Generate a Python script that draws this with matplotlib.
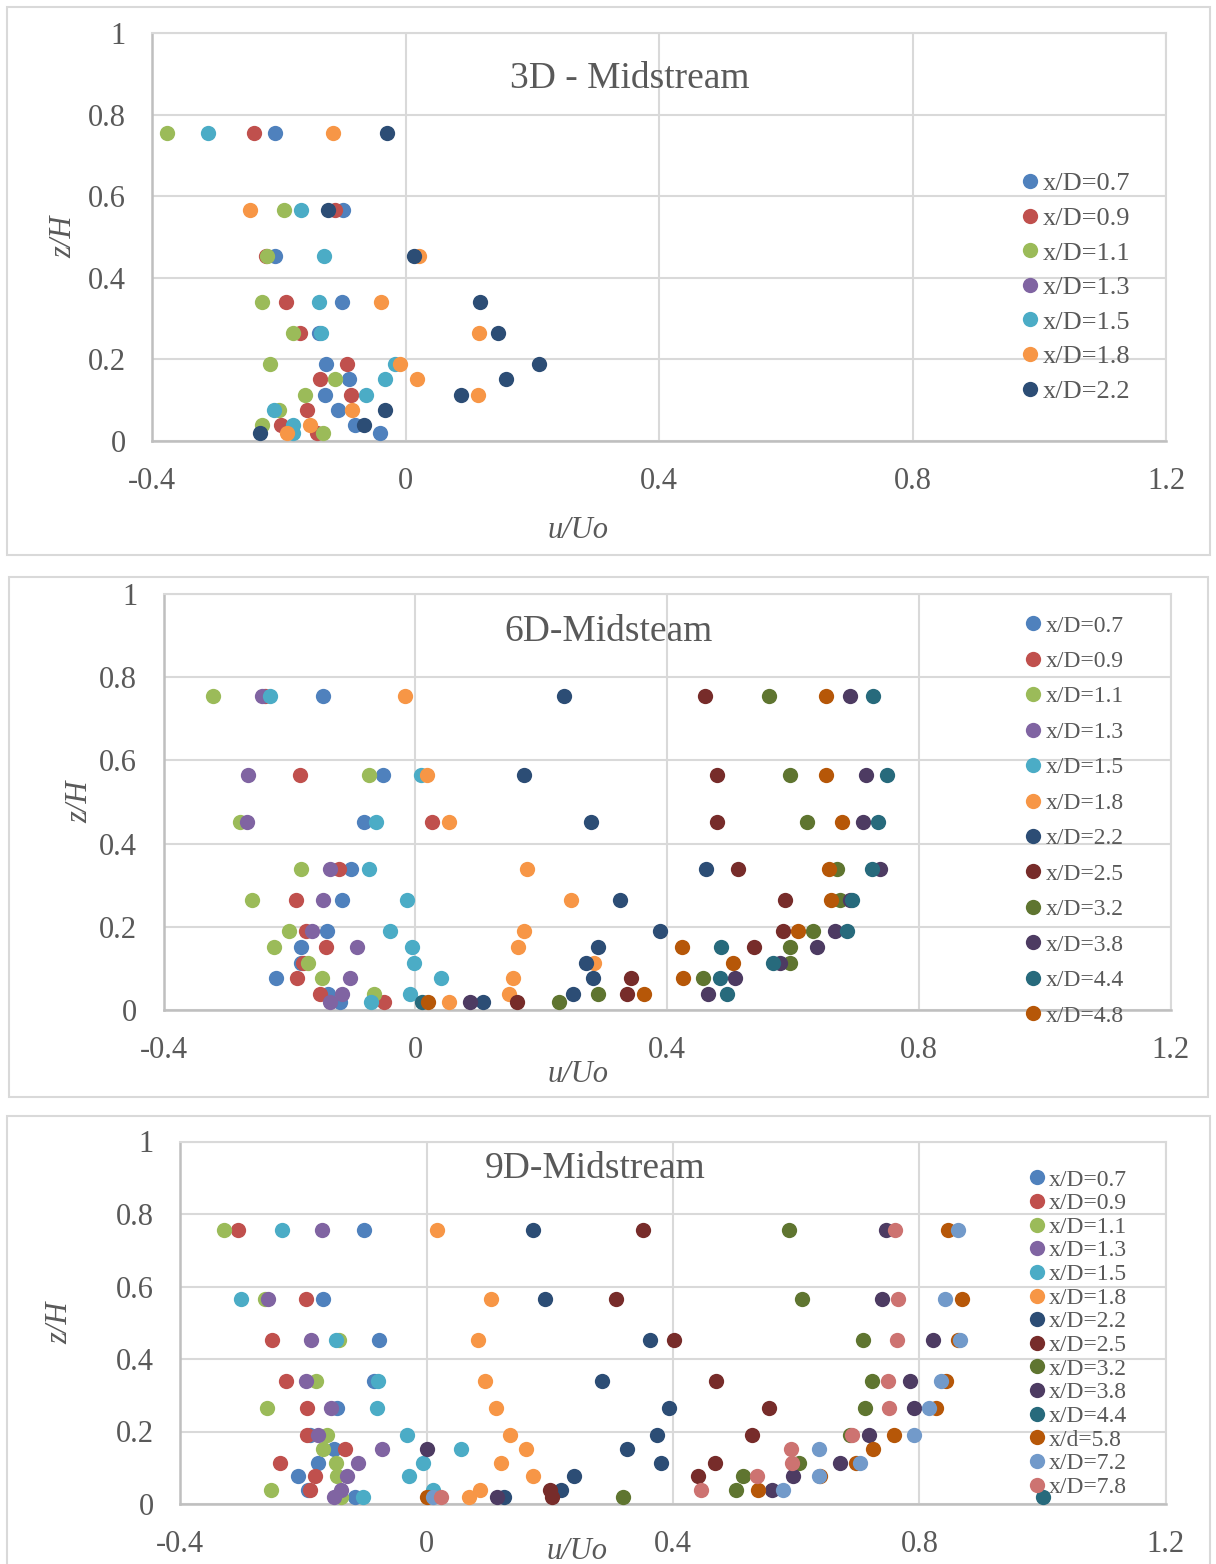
"""Midstream velocity profiles (u/Uo vs z/H) at 3D, 6D and 9D stations."""

import numpy as np
import matplotlib

matplotlib.use("Agg")
import matplotlib.pyplot as plt
from matplotlib.patches import Rectangle

nan = np.nan
W, H = 1216, 1564

# measurement heights z/H (same for every station)
Z = [0.019, 0.039, 0.076, 0.113, 0.152, 0.189, 0.264, 0.340, 0.453, 0.566, 0.755]

COLORS = {
    "x/D=0.7": "#4F81BD", "x/D=0.9": "#C0504D", "x/D=1.1": "#9BBB59",
    "x/D=1.3": "#8064A2", "x/D=1.5": "#4BACC6", "x/D=1.8": "#F79646",
    "x/D=2.2": "#2C4D75", "x/D=2.5": "#772C2A", "x/D=3.2": "#5F7530",
    "x/D=3.8": "#4D3B62", "x/D=4.4": "#276A7C", "x/D=4.8": "#B65708",
    "x/d=5.8": "#B65708", "x/D=7.2": "#729ACA", "x/D=7.8": "#CD7371",
}

# ---- 3D - Midstream ----
mid3_labels = ["x/D=0.7", "x/D=0.9", "x/D=1.1", "x/D=1.3", "x/D=1.5",
               "x/D=1.8", "x/D=2.2"]
mid3_u = [
    [-0.041, -0.079, -0.107, -0.127, -0.089, -0.126, -0.136, -0.100, -0.206, -0.099, -0.206],
    [-0.140, -0.197, -0.155, -0.086, -0.135, -0.092, -0.166, -0.188, -0.220, -0.111, -0.239],
    [-0.130, -0.227, -0.199, -0.159, -0.112, -0.214, -0.178, -0.226, -0.218, -0.192, -0.376],
    [nan] * 11,
    [-0.177, -0.177, -0.207, -0.063, -0.032, -0.016, -0.134, -0.136, -0.128, -0.165, -0.312],
    [-0.187, -0.151, -0.084, 0.114, 0.018, -0.008, 0.116, -0.039, 0.022, -0.245, -0.115],
    [-0.230, -0.065, -0.033, 0.087, 0.158, 0.210, 0.146, 0.117, 0.013, -0.123, -0.029],
]

# ---- 6D-Midsteam ----
mid6_labels = ["x/D=0.7", "x/D=0.9", "x/D=1.1", "x/D=1.3", "x/D=1.5",
               "x/D=1.8", "x/D=2.2", "x/D=2.5", "x/D=3.2", "x/D=3.8",
               "x/D=4.4", "x/D=4.8"]
mid6_u = [
    [-0.120, -0.138, -0.221, -0.182, -0.182, -0.141, -0.116, -0.102, -0.082, -0.052, -0.147],
    [-0.049, -0.151, -0.188, -0.178, -0.142, -0.173, -0.190, -0.121, 0.026, -0.183, -0.239],
    [nan, -0.065, -0.148, -0.170, -0.225, -0.200, -0.259, -0.181, -0.279, -0.074, -0.322],
    [-0.135, -0.117, -0.104, nan, -0.093, -0.164, -0.146, -0.135, -0.267, -0.266, -0.244],
    [-0.071, -0.008, 0.041, -0.002, -0.005, -0.041, -0.014, -0.073, -0.063, 0.009, -0.231],
    [0.053, 0.149, 0.156, 0.284, 0.163, 0.173, 0.247, 0.178, 0.054, 0.018, -0.017],
    [0.108, 0.251, 0.283, 0.271, 0.291, 0.389, 0.325, 0.462, 0.279, 0.172, 0.236],
    [0.162, 0.337, 0.343, nan, 0.538, 0.584, 0.587, 0.512, 0.479, 0.479, 0.461],
    [0.229, 0.291, 0.457, 0.595, 0.596, 0.632, 0.675, 0.670, 0.622, 0.596, 0.562],
    [0.087, 0.465, 0.508, 0.579, 0.639, 0.667, 0.691, 0.738, 0.711, 0.716, 0.691],
    [0.010, 0.496, 0.484, 0.568, 0.485, 0.686, 0.694, 0.726, 0.736, 0.750, 0.727],
    [0.020, 0.363, 0.425, 0.505, 0.423, 0.608, 0.660, 0.658, 0.678, 0.653, 0.652],
]

# ---- 9D-Midstream ----
mid9_labels = ["x/D=0.7", "x/D=0.9", "x/D=1.1", "x/D=1.3", "x/D=1.5",
               "x/D=1.8", "x/D=2.2", "x/D=2.5", "x/D=3.2", "x/D=3.8",
               "x/D=4.4", "x/d=5.8", "x/D=7.2", "x/D=7.8"]
mid9_u = [
    [-0.117, -0.193, -0.209, -0.177, -0.150, -0.190, -0.145, -0.086, -0.077, -0.168, -0.102],
    [nan, -0.189, -0.182, -0.238, -0.132, -0.194, -0.195, -0.228, -0.252, -0.196, -0.306],
    [-0.140, -0.253, -0.145, -0.148, -0.169, -0.162, -0.259, -0.180, -0.143, -0.263, -0.330],
    [-0.150, -0.139, -0.129, -0.111, -0.073, -0.176, -0.156, -0.196, -0.188, -0.257, -0.170],
    [-0.104, 0.011, -0.028, -0.006, 0.056, -0.032, -0.080, -0.079, -0.148, -0.302, -0.235],
    [0.068, 0.087, 0.173, 0.120, 0.161, 0.135, 0.113, 0.095, 0.084, 0.105, 0.017],
    [0.126, 0.218, 0.239, 0.380, 0.326, 0.374, 0.394, 0.285, 0.362, 0.192, 0.172],
    [0.203, 0.200, 0.440, 0.468, nan, 0.529, 0.555, 0.470, 0.402, 0.307, 0.352],
    [0.319, 0.503, 0.513, 0.604, nan, 0.687, 0.712, 0.723, 0.708, 0.610, 0.589],
    [0.114, 0.561, 0.595, 0.671, 0.000, 0.718, 0.792, 0.784, 0.822, 0.739, 0.746],
    [1.000, nan, nan, nan, nan, nan, nan, nan, nan, nan, nan],
    [0.000, 0.538, 0.639, 0.697, 0.724, 0.758, 0.827, 0.844, 0.863, 0.869, 0.846],
    [0.011, 0.578, 0.637, 0.704, 0.637, 0.791, 0.815, 0.835, 0.866, 0.841, 0.863],
    [0.023, 0.446, 0.537, 0.593, 0.591, 0.691, 0.750, 0.749, 0.763, 0.766, 0.760],
]

XTICKS = [-0.4, 0, 0.4, 0.8, 1.2]
XTICKLABELS = ["-0.4", "0", "0.4", "0.8", "1.2"]
YTICKS = [0, 0.2, 0.4, 0.6, 0.8, 1.0]
YTICKLABELS = ["0", "0.2", "0.4", "0.6", "0.8", "1"]

TXT = "#595959"
GRID = "#D9D9D9"
AXIS = "#BFBFBF"

plt.rcParams["font.family"] = ["Liberation Serif", "DejaVu Serif"]


def fx(px):
    return px / W


def fy(py):
    return 1 - py / H


def frame(fig, x0, y0, x1, y1):
    fig.add_artist(Rectangle((fx(x0), fy(y1)), fx(x1 - x0), (y1 - y0) / H,
                             transform=fig.transFigure, fill=False,
                             ec=GRID, lw=1.5))


def panel(fig, box, title, title_xy, labels, us, xlab_xy, ylab_x, leg):
    left, top, right, bottom = box
    ax = fig.add_axes([fx(left), fy(bottom), fx(right - left), (bottom - top) / H])
    for lab, u in zip(labels, us):
        ax.plot(u, Z, "o", ms=11, mew=0, color=COLORS[lab], label=lab,
                clip_on=False, zorder=3)

    ax.set_xlim(-0.4, 1.2)
    ax.set_ylim(0, 1)
    ax.set_xticks(XTICKS, XTICKLABELS)
    ax.set_yticks(YTICKS, YTICKLABELS)
    ax.tick_params(length=0, labelsize=22, labelcolor=TXT)
    ax.tick_params(axis="x", pad=18.5)
    ax.tick_params(axis="y", pad=19)
    ax.grid(True, color=GRID, lw=1.5)
    ax.set_axisbelow(True)
    for s in ("left", "bottom"):
        ax.spines[s].set_color(AXIS)
        ax.spines[s].set_linewidth(1.8)
    for s in ("top", "right"):
        ax.spines[s].set_color(GRID)
        ax.spines[s].set_linewidth(1.5)

    ax.set_xlabel("u/Uo", fontsize=22, style="italic", color=TXT, va="center")
    ax.xaxis.set_label_coords(*xlab_xy)
    ax.set_ylabel("z/H", fontsize=22, style="italic", color=TXT, va="center")
    ax.yaxis.set_label_coords(ylab_x, 0.5)

    ax.text(title_xy[0], title_xy[1], title, transform=ax.transAxes,
            ha="center", va="center", fontsize=27, color=TXT)

    lx, ly, fs, spacing, tpad = leg
    ax.legend(loc="upper left", bbox_to_anchor=(fx(lx), fy(ly)),
              bbox_transform=fig.transFigure, frameon=False, fontsize=fs,
              labelcolor=TXT, labelspacing=spacing, handlelength=0.6,
              handletextpad=tpad, borderpad=0, borderaxespad=0, numpoints=1)
    return ax


fig = plt.figure(figsize=(W / 100, H / 100), dpi=100)

frame(fig, 7, 7, 1210, 555)
frame(fig, 9, 577, 1208, 1097)
frame(fig, 7, 1116, 1210, 1580)

panel(fig, (152, 33, 1166, 441), "3D - Midstream", (0.471, 0.888),
      mid3_labels, mid3_u, (0.420, -0.219), -0.087,
      (1022, 172, 19, 0.42, 0.2))
panel(fig, (163.6, 594, 1170.5, 1010), "6D-Midsteam", (0.442, 0.910),
      mid6_labels, mid6_u, (0.4116, -0.155), -0.083,
      (1026, 615, 17, 0.59, 0.25))
panel(fig, (180.4, 1141.5, 1165.7, 1504), "9D-Midstream", (0.421, 0.924),
      mid9_labels, mid9_u, (0.4025, -0.131), -0.122,
      (1030, 1169, 17, 0.09, 0.2))

fig.savefig("out.png", dpi=100)
